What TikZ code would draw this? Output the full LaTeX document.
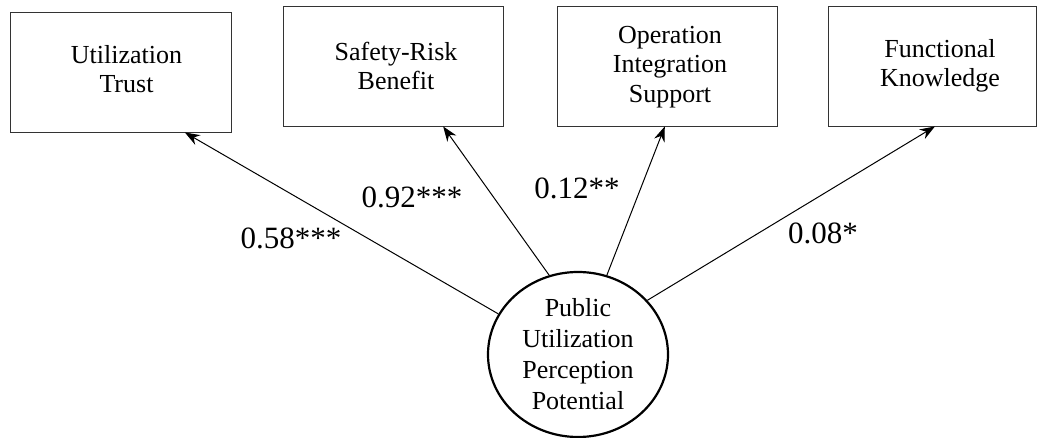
\documentclass[tikz,border=0pt]{standalone}
\usepackage{fontspec}
\setmainfont{Liberation Serif}
\usetikzlibrary{shapes.geometric,arrows.meta,calc}
\begin{document}
\begin{tikzpicture}[x=1pt,y=-1pt,
  box/.style={draw=black!80, line width=0.9pt, inner sep=0pt, minimum height=120pt},
  boxtext/.style={inner sep=0pt, align=center, font=\fontsize{26}{29.5}\selectfont},
  latent/.style={draw, ellipse, line width=2.2pt, minimum width=180pt, minimum height=165pt, inner sep=0pt, align=center, font=\fontsize{26}{31}\selectfont},
  arr/.style={line width=1pt, -{Stealth[length=15pt,width=11pt]}},
  coef/.style={inner sep=0pt, font=\fontsize{31}{31}\selectfont}]
\useasboundingbox (0,0) rectangle (1037,438);
\node[box, minimum width=221pt] (b1) at (120.5,72) {};
\node[box, minimum width=220pt] (b2) at (393,66) {};
\node[box, minimum width=220pt] (b3) at (667,66) {};
\node[box, minimum width=208pt] (b4) at (932,66) {};
\node[boxtext] (t1) at ($(b1.center)+(6,-3)$) {Utilization\\Trust};
\node[boxtext] (t2) at ($(b2.center)+(3,0)$) {Safety-Risk\\Benefit};
\node[boxtext] (t3) at ($(b3.center)+(3,1)$) {Operation\\Integration\\Support};
\node[boxtext] (t4) at ($(b4.center)+(8,0)$) {Functional\\Knowledge};
\node[latent] (c) at (578,354.5) {Public\\Utilization\\Perception\\Potential};
\draw[arr] (c.153) -- ($(b1.south west)!0.79!(b1.south east)$);
\draw[arr] (c.110.8) -- ($(b2.south west)!0.727!(b2.south east)$);
\draw[arr] (c.70) -- ($(b3.south west)!0.49!(b3.south east)$);
\draw[arr] (c.38) -- ($(b4.south west)!0.514!(b4.south east)$);
\node[coef] (l1) at (291,238) {0.58***};
\node[coef] (l2) at (412,197) {0.92***};
\node[coef] (l3) at (577,188) {0.12**};
\node[coef] (l4) at (823,233) {0.08*};
\end{tikzpicture}
\end{document}
